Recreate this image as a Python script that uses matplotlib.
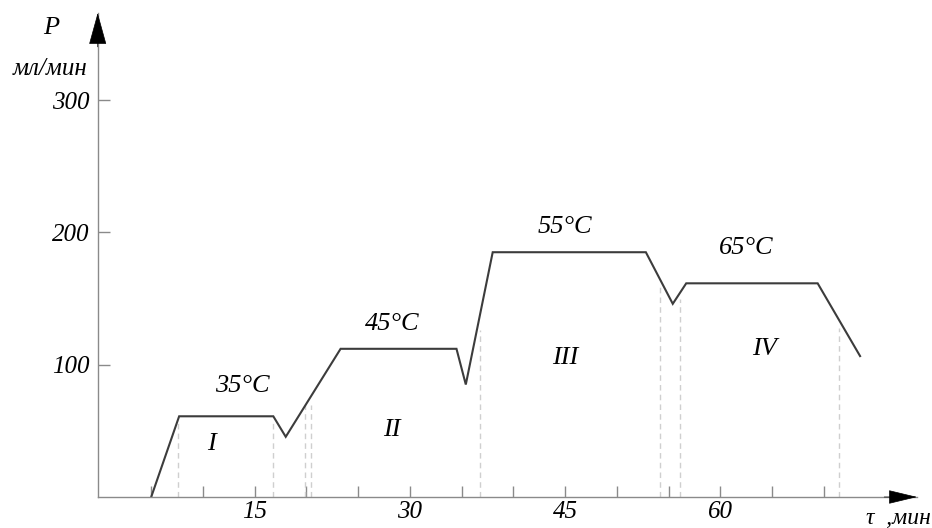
import numpy as np
import matplotlib
matplotlib.use('Agg')
import matplotlib.pyplot as plt

# Flow rate P (ml/min) vs time tau (min)
time_min = [5.0, 7.7, 16.8, 18.0, 23.3, 34.5, 35.4, 38.0, 52.8, 55.4, 56.7, 69.4, 73.5]
rate = [0, 61, 61, 45.5, 112, 112, 85, 185, 185, 146, 161.5, 161.5, 106.5]

# light dashed guides (x position, height)
guide_x = [7.6, 16.8, 19.9, 20.4, 36.8, 54.2, 56.1, 71.45]
guide_top = [57, 57, 69.5, 69.5, 126, 159, 150, 128]

# stage labels and temperatures
stage_labels = ['I', 'II', 'III', 'IV']
stage_x = [10.8, 28.3, 45.0, 64.3]
stage_y = [40, 51, 105, 112]
temp_labels = ['35°C', '45°C', '55°C', '65°C']
temp_x = [13.8, 28.3, 45.0, 62.5]
temp_y = [84, 131, 204, 188]

xticks = [5, 10, 15, 20, 25, 30, 35, 40, 45, 50, 55, 60, 65, 70]
xtick_labels = ['', '', '15', '', '', '30', '', '', '45', '', '', '60', '', '']
yticks = [100, 200, 300]

plt.rcParams['font.family'] = ['Liberation Serif', 'DejaVu Serif']
plt.rcParams['font.style'] = 'italic'

W, H = 932, 528
fig = plt.figure(figsize=(W / 100, H / 100), dpi=100)
# axes box in pixels: y-axis at x=97.7, x-axis at y=497, arrows end at x=917 / y=13
ax = fig.add_axes([97.7 / W, (H - 497) / H, (917 - 97.7) / W, (497 - 13) / H])
ax.set_xlim(-0.17, 79.0)
ax.set_ylim(0, 365.8)

axis_color = '#8a8a8a'
for side in ['top', 'right']:
    ax.spines[side].set_visible(False)
for side in ['left', 'bottom']:
    ax.spines[side].set_color(axis_color)
    ax.spines[side].set_linewidth(1.0)

ax.vlines(guide_x, 0, guide_top, colors='#cfcfcf', linestyles=(0, (4, 3)), linewidth=1.0)
ax.plot(time_min, rate, color='#3c3c3c', linewidth=1.5, solid_joinstyle='miter')

ax.set_xticks(xticks)
ax.set_xticklabels(xtick_labels, fontsize=18)
ax.set_yticks(yticks)
ax.set_yticklabels([str(v) for v in yticks], fontsize=18)
ax.tick_params(axis='x', direction='in', length=8, width=1.0, color=axis_color, pad=3)
ax.tick_params(axis='y', direction='in', length=8.5, width=1.0, color=axis_color, pad=6)

for lab, x, y in zip(stage_labels, stage_x, stage_y):
    ax.text(x, y, lab, fontsize=19, ha='center', va='center')
for lab, x, y in zip(temp_labels, temp_x, temp_y):
    ax.text(x, y, lab, fontsize=19, ha='center', va='center')

# arrow heads on the axes
ax.annotate('', xy=(1, 0), xytext=(0.96, 0), xycoords='axes fraction',
            arrowprops=dict(arrowstyle='-|>,head_length=1.87,head_width=0.45',
                            mutation_scale=10, fc='black', ec='black', lw=0.5,
                            shrinkA=0, shrinkB=0), annotation_clip=False)
ax.annotate('', xy=(0, 1), xytext=(0, 0.93), xycoords='axes fraction',
            arrowprops=dict(arrowstyle='-|>,head_length=2.1,head_width=0.58',
                            mutation_scale=10, fc='black', ec='black', lw=0.5,
                            shrinkA=0, shrinkB=0), annotation_clip=False)

# axis titles
fig.text(51 / W, 1 - 28 / H, 'P', fontsize=19, ha='center', va='center')
fig.text(50 / W, 1 - 69 / H, 'мл/мин', fontsize=18, ha='center', va='center')
fig.text(931 / W, 1 - 518 / H, 'τ  ,мин', fontsize=17, ha='right', va='center')

fig.savefig('out.png', dpi=100)
